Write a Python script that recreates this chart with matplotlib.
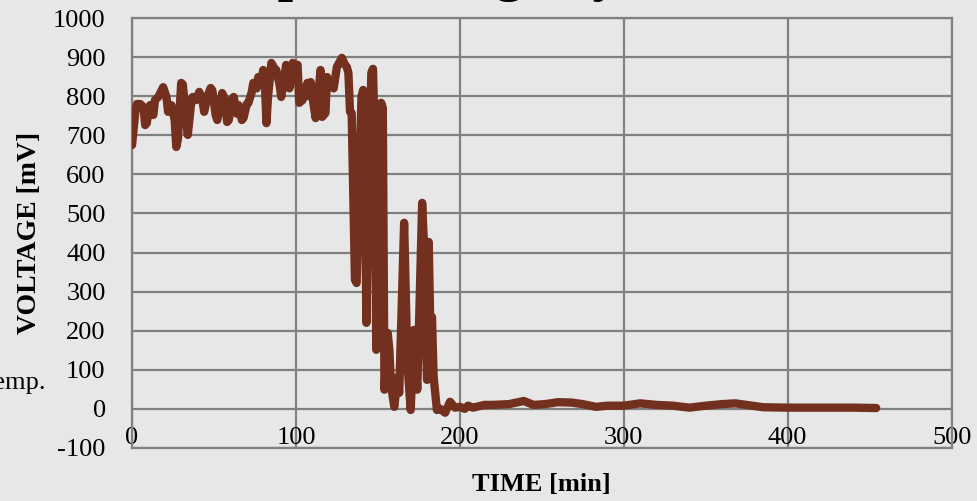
import matplotlib.pyplot as plt

# data (time in min, voltage in mV)
time_min = [0, 2, 3, 5, 7, 8, 9, 10, 11, 13, 14, 16, 19, 21, 22, 24, 26, 27, 28, 30,
            31, 33, 34, 36, 37, 39, 41, 43, 44, 46, 48, 49, 51, 52, 54, 55, 57, 58, 59, 61,
            62, 64, 65, 67, 68, 70, 71, 73, 74, 76, 77, 79, 80, 81, 82, 83, 85, 87, 88, 90,
            91, 93, 94, 96, 98, 100, 101, 102, 104, 106, 107, 108, 109, 110, 112, 114, 115, 116, 118, 119,
            120, 122, 123, 125, 127, 128, 130, 131, 132, 133, 134, 136, 137, 139, 140, 141, 142, 143, 144, 146,
            147, 148, 149, 150, 152, 153, 154, 156, 157, 158, 160, 162, 163, 166, 168, 170, 172, 174, 175, 177,
            178, 180, 181, 182, 183, 184, 186, 188, 191, 194, 197, 200, 203, 205, 208, 210, 215, 220, 230, 239,
            245, 252, 260, 268, 275, 283, 290, 300, 310, 320, 330, 340, 350, 360, 368, 375, 385, 400, 420, 440,
            454]
voltage_mv = [675, 760, 780, 780, 772, 726, 731, 760, 777, 752, 790, 798, 823, 798, 760, 777, 740, 670, 690, 834,
              830, 740, 701, 780, 798, 790, 811, 790, 760, 800, 821, 815, 752, 739, 780, 808, 790, 734, 739, 790,
              798, 755, 777, 739, 744, 780, 783, 810, 834, 820, 849, 830, 867, 840, 731, 800, 885, 870, 867, 830,
              798, 850, 880, 820, 885, 880, 880, 783, 790, 820, 834, 800, 836, 800, 744, 820, 867, 747, 757, 849,
              830, 834, 820, 875, 890, 898, 880, 875, 860, 760, 757, 330, 322, 650, 800, 816, 600, 220, 500, 860,
              870, 700, 151, 400, 783, 770, 49, 194, 150, 60, 5, 80, 41, 476, 118, -3, 202, 49, 200, 527,
              430, 74, 427, 200, 235, 82, -3, 0, -10, 18, 3, 5, 0, 8, 3, 5, 10, 10, 12, 20,
              10, 12, 17, 16, 12, 5, 8, 8, 14, 10, 8, 3, 8, 12, 14, 10, 4, 3, 3, 3,
              2]

x_ticks = [0, 100, 200, 300, 400, 500]
y_ticks = list(range(-100, 1001, 100))

bg = "#e7e7e7"
grid_col = "#808080"
line_col = "#73301f"

plt.rcParams["font.family"] = ["Liberation Serif", "DejaVu Serif"]
plt.rcParams["axes.unicode_minus"] = False

fig = plt.figure(figsize=(9.78, 5.01), dpi=100, facecolor=bg)
ax = fig.add_axes([0.135, 0.106, 0.838, 0.858], facecolor=bg)

ax.plot(time_min, voltage_mv, color=line_col, lw=6, solid_joinstyle="round",
        solid_capstyle="round", zorder=3)

ax.set_xlim(0, 500)
ax.set_ylim(-100, 1000)
ax.set_xticks(x_ticks)
ax.set_yticks(y_ticks)
ax.grid(True, color=grid_col, lw=1.6)
for s in ax.spines.values():
    s.set_color(grid_col)
    s.set_linewidth(1.6)
ax.tick_params(length=0, labelsize=19)
ax.tick_params(axis="y", pad=19)
ax.tick_params(axis="x", pad=-15)

ax.set_xlabel("TIME [min]", fontsize=19, fontweight="bold", labelpad=17)
ax.set_ylabel("VOLTAGE [mV]", fontsize=20, fontweight="bold", labelpad=8)

# cut-off texts from the slide (only the bottoms show in the reference)
fig.text(0.189, 1 + 10 / 501, "Output Voltage by Time", fontsize=40, fontweight="bold",
         va="baseline", ha="left")
fig.text(0.047, 1 - 383 / 501, "Temp.", fontsize=19, ha="right", va="center")

fig.savefig("out.png", dpi=100, facecolor=bg)
